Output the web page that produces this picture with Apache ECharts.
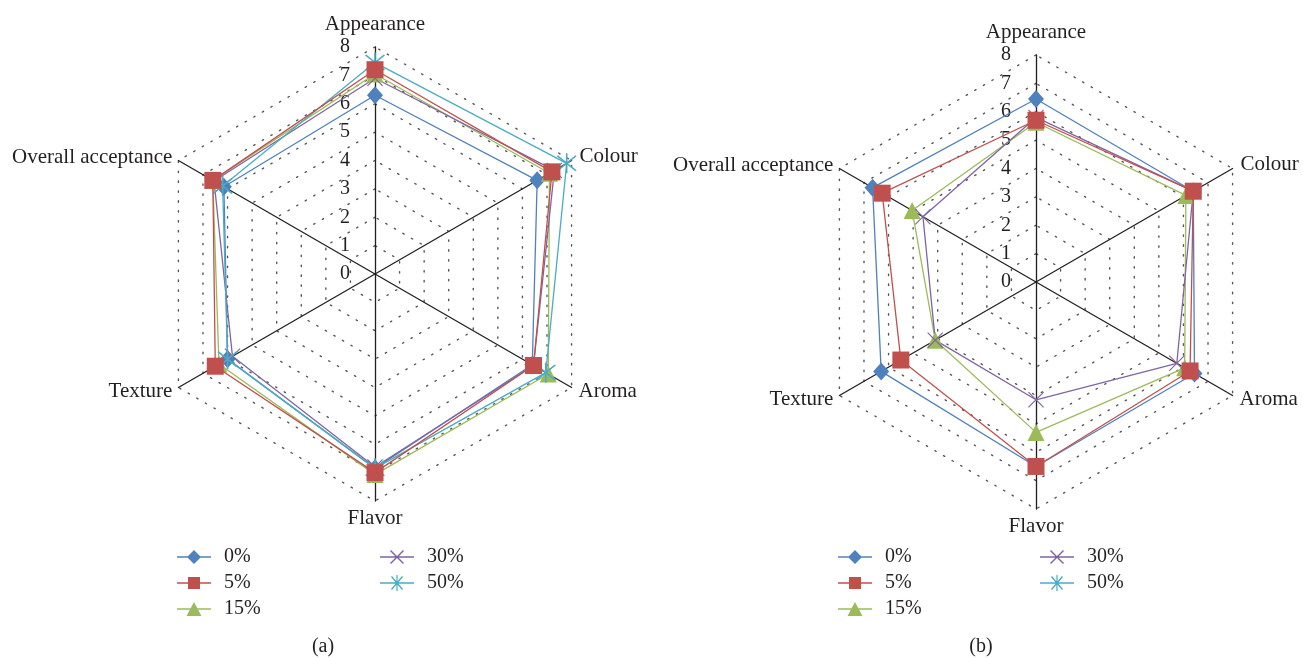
<!DOCTYPE html>
<html>
<head>
<meta charset="utf-8">
<script src="https://cdn.jsdelivr.net/npm/echarts@6/dist/echarts.min.js"></script>
<style>
html,body{margin:0;padding:0;background:#fff;}
#chart{width:1303px;height:658px;}
</style>
</head>
<body>
<div id="chart"></div>
<script>
// ---------------- data ----------------
const categories = ['Appearance', 'Colour', 'Aroma', 'Flavor', 'Texture', 'Overall acceptance'];
const seriesNames = ['0%', '5%', '15%', '30%', '50%'];
const tickLabels = ['0', '1', '2', '3', '4', '5', '6', '7', '8'];
const scaleMax = 8;

// chart (a)
const a0  = [6.3, 6.6, 6.4, 6.85, 6.0, 6.15];
const a5  = [7.2, 7.2, 6.45, 7.0, 6.5, 6.6];
const a15 = [7.05, 7.1, 7.05, 7.07, 6.35, 6.6];
const a30 = [6.9, 7.3, 6.45, 6.8, 5.8, 6.55];
const a50 = [7.45, 7.8, 6.95, 6.85, 6.0, 6.2];

// chart (b)
const b0  = [6.45, 6.4, 6.45, 6.5, 6.3, 6.65];
const b5  = [5.7, 6.4, 6.27, 6.5, 5.5, 6.26];
const b15 = [5.63, 6.1, 6.05, 5.3, 4.1, 5.04];
const b30 = [5.8, 6.4, 5.73, 4.15, 4.1, 4.6];
const b50 = [];

const chartA = [a0, a5, a15, a30, a50];
const chartB = [b0, b5, b15, b30, b50];
const captions = ['(a)', '(b)'];

// ---------------- styles ----------------
const FONT = '"Liberation Serif", "DejaVu Serif", serif';
const colors = ['#4F81BD', '#C0504D', '#9BBB59', '#8064A2', '#4BACC6'];
const X_PATH = 'M0,1L1,0L20,19L19,20ZM19,0L20,1L1,20L0,19Z';
const STAR_PATH = 'M2,3L3,2L18,17L17,18ZM17,2L18,3L3,18L2,17ZM9.35,0L10.65,0L10.65,20L9.35,20Z';
const symbols = ['diamond', 'rect', 'triangle', 'path://' + X_PATH, 'path://' + STAR_PATH];
const symbolSizes = [[16, 18], 17, 17, 16, 20];

const LINE = 'M0,7.35L34,7.35L34,8.65L0,8.65Z';
const legendIcons = [
  'path://' + LINE + 'M17,1L24,8L17,15L10,8Z',
  'path://' + LINE + 'M11,2L23,2L23,14L11,14Z',
  'path://' + LINE + 'M17,1L24.5,15L9.5,15Z',
  'path://' + LINE + 'M10,2L11,1L24,14L23,15ZM23,1L24,2L11,15L10,14Z',
  'path://' + LINE + 'M11,2L12,1L23,14L22,15ZM22,1L23,2L12,15L11,14ZM16.4,0L17.6,0L17.6,16L16.4,16Z'
];

// ECharts lays radar indicators counter-clockwise; the reference runs clockwise.
const order = [0, 5, 4, 3, 2, 1];
const nameGaps = [12, 9, 8, 7, 7, 7];

const centers = [[375, 274], [1036, 282]];
const radius = 227;

function buildIndicators() {
  return order.map(i => ({
    name: categories[i],
    min: 0,
    max: scaleMax,
    nameGap: nameGaps[i],
    axisLabel: { show: i === 0 }
  }));
}

const radars = centers.map(c => ({
  center: c,
  radius: radius,
  startAngle: 90,
  splitNumber: tickLabels.length - 1,
  shape: 'polygon',
  indicator: buildIndicators(),
  axisName: { color: '#231f20', fontFamily: FONT, fontSize: 21 },
  axisLine: { lineStyle: { color: '#231f20', width: 1.3 } },
  axisTick: { show: false },
  axisLabel: {
    show: true, color: '#231f20', fontFamily: FONT, fontSize: 20, margin: 25,
    formatter: v => tickLabels[Math.round(v)] || ''
  },
  splitLine: { lineStyle: { color: '#555', width: 1.4, type: [1.4, 8.5], cap: 'round' } },
  splitArea: { show: false }
}));

const series = [];
[chartA, chartB].forEach((chart, r) => {
  chart.forEach((vals, s) => {
    series.push({
      type: 'radar',
      radarIndex: r,
      name: seriesNames[s],
      symbol: symbols[s],
      symbolSize: symbolSizes[s],
      z: 2 + (s === 1 ? 1 : 0),
      lineStyle: { color: colors[s], width: 1.3 },
      itemStyle: { color: colors[s], borderWidth: 0 },
      emphasis: { disabled: true },
      data: vals.length ? [{ value: order.map(i => vals[i]), name: seriesNames[s] }] : []
    });
  });
});

function legendBlock(left, idxs) {
  return {
    orient: 'vertical',
    left: left,
    top: 547,
    padding: 0,
    itemWidth: 34,
    itemHeight: 16,
    itemGap: 6,
    selectedMode: false,
    textStyle: { fontFamily: FONT, fontSize: 20, color: '#231f20', lineHeight: 20, padding: [0, 0, 0, 8] },
    itemStyle: { borderWidth: 0 },
    data: idxs.map(i => ({ name: seriesNames[i], icon: legendIcons[i] }))
  };
}

const option = {
  backgroundColor: '#ffffff',
  animation: false,
  color: colors,
  radar: radars,
  legend: [
    legendBlock(177, [0, 1, 2]),
    legendBlock(380, [3, 4]),
    legendBlock(838, [0, 1, 2]),
    legendBlock(1040, [3, 4])
  ],
  graphic: captions.map((t, i) => ({
    type: 'text',
    x: [323, 981][i],
    y: 647,
    style: { text: t, font: '20px ' + FONT, textAlign: 'center', textVerticalAlign: 'middle', fill: '#231f20' }
  })),
  series: series
};

const chart = echarts.init(document.getElementById('chart'), null, { renderer: 'canvas' });
chart.setOption(option);
</script>
</body>
</html>
